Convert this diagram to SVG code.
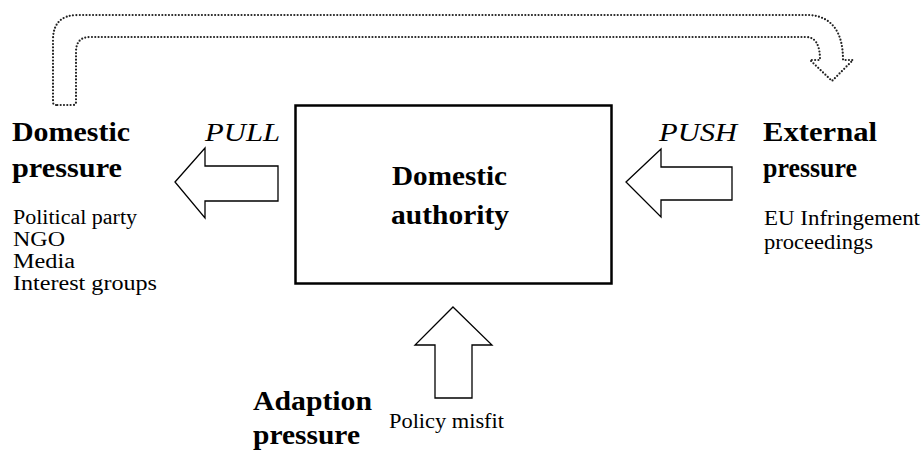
<svg xmlns="http://www.w3.org/2000/svg" width="921" height="459" viewBox="0 0 921 459">
<style>
text{font-family:"Liberation Serif","Times New Roman",serif;fill:#000}
.t{font-weight:bold;font-size:27px}
.s{font-size:20px}
.i{font-style:italic;font-size:26px}
.ar{fill:#fff;stroke:#000;stroke-width:1.3}
.dot{fill:none;stroke:#222;stroke-width:2.2;stroke-linecap:round;stroke-dasharray:0 3.3}
</style>
<rect width="921" height="459" fill="#fff"/>
<g id="authority">
<rect x="295.5" y="105.5" width="316" height="178" fill="#fff" stroke="#000" stroke-width="2.5"/>
<text class="t" x="392" y="185" textLength="115" lengthAdjust="spacingAndGlyphs">Domestic</text>
<text class="t" x="391" y="224" textLength="118" lengthAdjust="spacingAndGlyphs">authority</text>
</g>
<g id="domestic-pressure">
<text class="t" x="12" y="141" textLength="118" lengthAdjust="spacingAndGlyphs">Domestic</text>
<text class="t" x="12" y="177" textLength="110" lengthAdjust="spacingAndGlyphs">pressure</text>
<text class="s" x="13" y="224" textLength="124" lengthAdjust="spacingAndGlyphs">Political party</text>
<text class="s" x="13" y="246" textLength="52" lengthAdjust="spacingAndGlyphs">NGO</text>
<text class="s" x="13" y="268" textLength="62" lengthAdjust="spacingAndGlyphs">Media</text>
<text class="s" x="13" y="290" textLength="144" lengthAdjust="spacingAndGlyphs">Interest groups</text>
</g>
<g id="external-pressure">
<text class="t" x="763" y="141" textLength="114" lengthAdjust="spacingAndGlyphs">External</text>
<text class="t" x="763" y="177" textLength="94" lengthAdjust="spacingAndGlyphs">pressure</text>
<text class="s" x="764" y="225" textLength="156" lengthAdjust="spacingAndGlyphs">EU Infringement</text>
<text class="s" x="764" y="249" textLength="109" lengthAdjust="spacingAndGlyphs">proceedings</text>
</g>
<g id="adaption-pressure">
<text class="t" x="253" y="410" textLength="119" lengthAdjust="spacingAndGlyphs">Adaption</text>
<text class="t" x="253" y="444" textLength="107" lengthAdjust="spacingAndGlyphs">pressure</text>
<text class="s" x="389" y="428" textLength="115" lengthAdjust="spacingAndGlyphs">Policy misfit</text>
</g>
<g id="connectors">
<polygon id="pull" class="ar" points="175,182 205,148 205,166 278,166 278,201 205,201 205,218"/>
<text class="i" x="205" y="141" textLength="75" lengthAdjust="spacingAndGlyphs">PULL</text>
<polygon id="push" class="ar" points="626,182 661,149 661,167 732,167 732,200 661,200 661,217"/>
<text class="i" x="659" y="141" textLength="78" lengthAdjust="spacingAndGlyphs">PUSH</text>
<polygon id="misfit" class="ar" points="453,307 492,345 472,345 472,398 435,398 435,345 415,345"/>
<path id="feedback" class="dot" d="M56,105 Q53,105 53,102 L53,40 Q53,15 78,15 L810,15 Q843,18 843,60 L853,60 L832,81 L810,60 L820,60 Q820,37 806,37 L90,37 Q76,37 76,52 L76,102 Q76,105 73,105 Z"/>
</g>
</svg>
